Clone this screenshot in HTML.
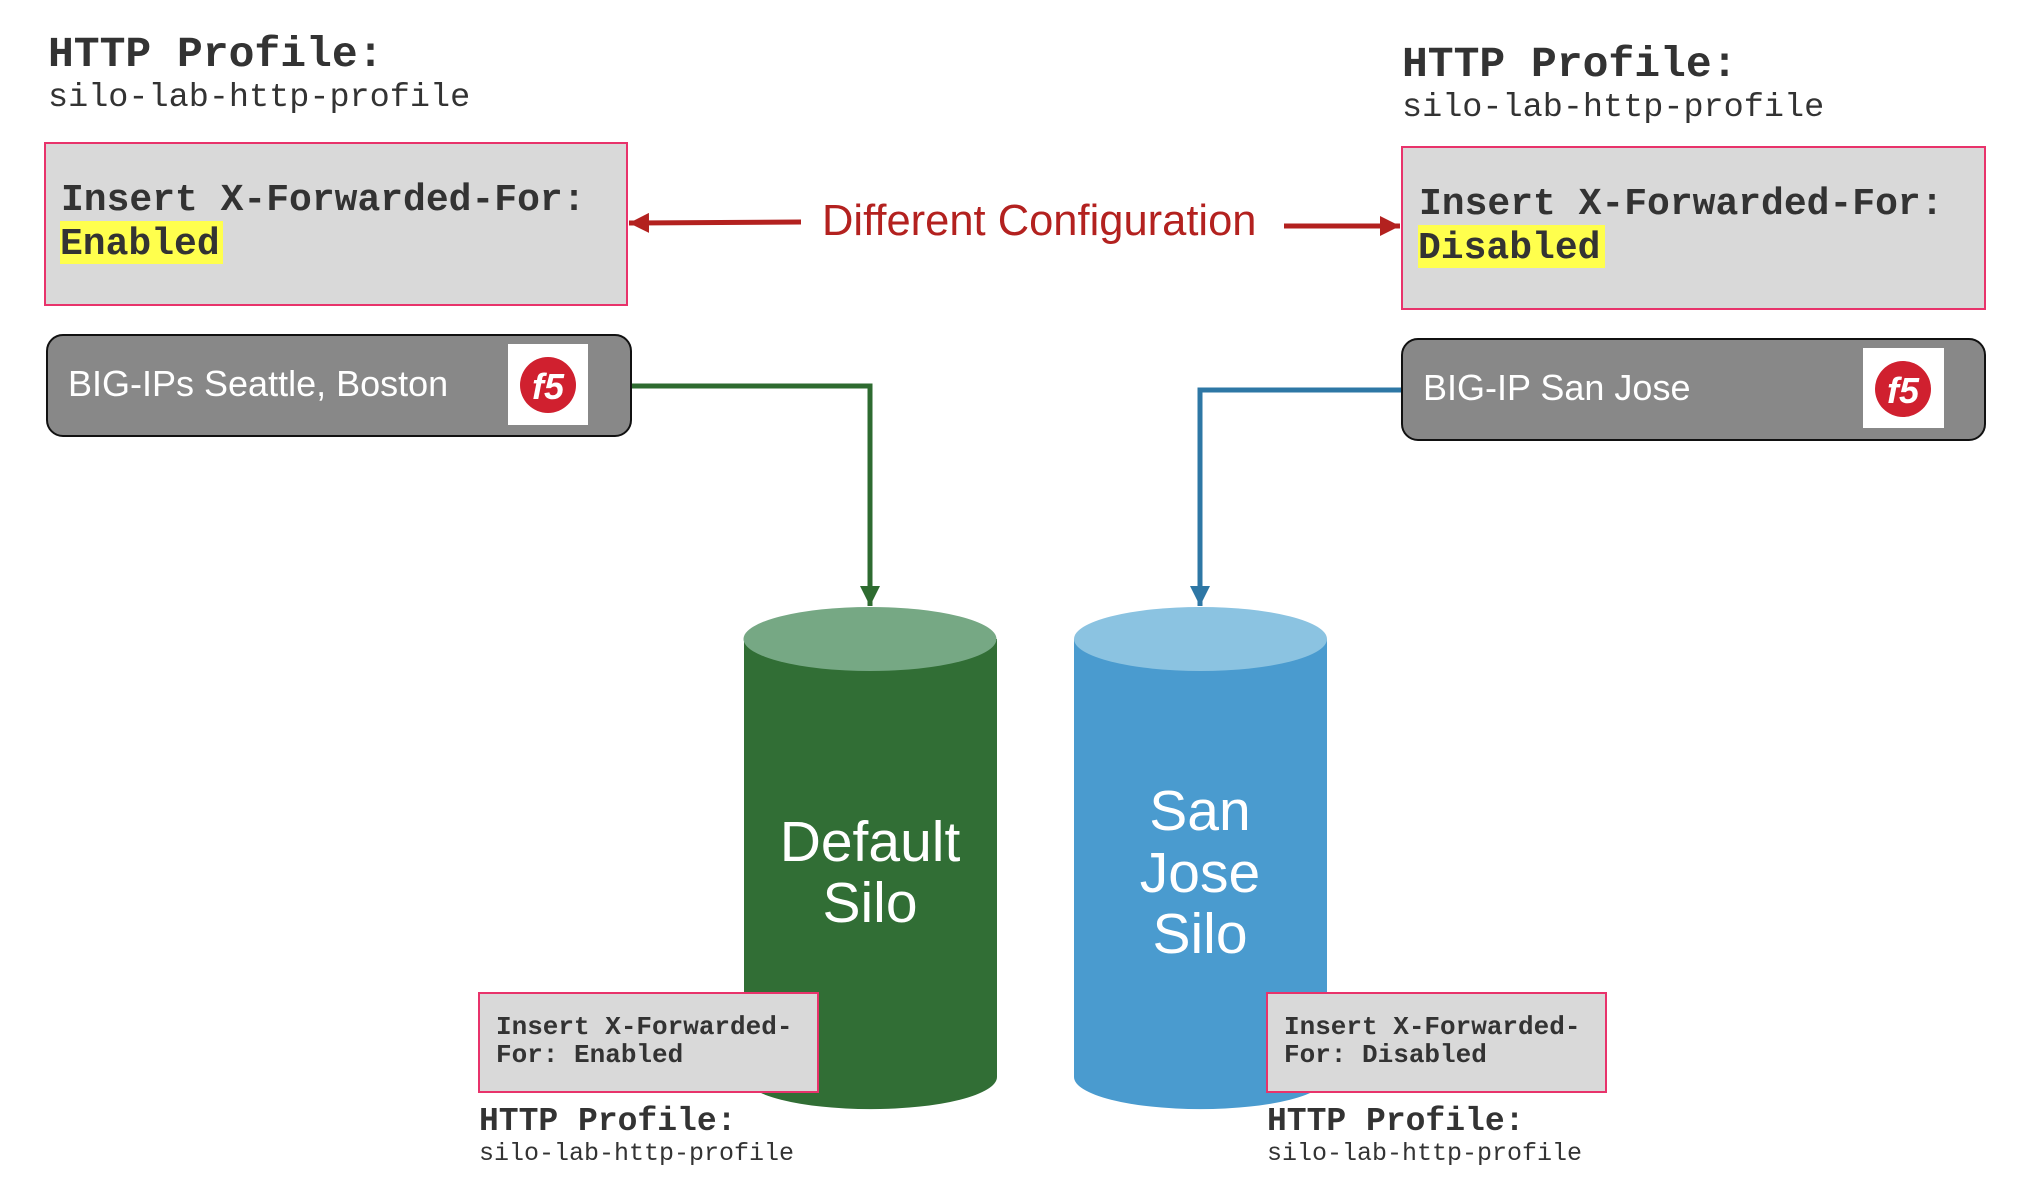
<!DOCTYPE html>
<html><head><meta charset="utf-8"><style>
html,body{margin:0;padding:0;background:#fff;}
svg{display:block;}
.m{font-family:"Liberation Mono","Courier New",monospace;fill:#333;}
.b{font-weight:bold;}
.s{font-family:"Liberation Sans",Arial,sans-serif;}
</style></head><body>
<svg width="2036" height="1200" viewBox="0 0 2036 1200" xmlns="http://www.w3.org/2000/svg">
<defs>
<marker id="ar" markerWidth="4" markerHeight="4" refX="4" refY="2" orient="auto" markerUnits="strokeWidth"><path d="M0,0 L4,2 L0,4 z" fill="#b3211f"/></marker>
<marker id="ag" markerWidth="4" markerHeight="4" refX="4" refY="2" orient="auto" markerUnits="strokeWidth"><path d="M0,0 L4,2 L0,4 z" fill="#2e6b30"/></marker>
<marker id="ab" markerWidth="4" markerHeight="4" refX="4" refY="2" orient="auto" markerUnits="strokeWidth"><path d="M0,0 L4,2 L0,4 z" fill="#2e77a5"/></marker>
</defs>

<text x="48" y="66" class="m b" font-size="43">HTTP Profile:</text>
<text x="48" y="106" class="m" font-size="33.5">silo-lab-http-profile</text>
<text x="1402" y="76" class="m b" font-size="43">HTTP Profile:</text>
<text x="1402" y="116" class="m" font-size="33.5">silo-lab-http-profile</text>

<rect x="45" y="143" width="582" height="162" fill="#d9d9d9" stroke="#e8336b" stroke-width="2"/>
<rect x="60" y="221" width="163" height="43" fill="#ffff4d"/>
<text x="61" y="210" class="m b" font-size="38">Insert X-Forwarded-For:</text>
<text x="60" y="254" class="m b" font-size="38">Enabled</text>

<rect x="1402" y="147" width="583" height="162" fill="#d9d9d9" stroke="#e8336b" stroke-width="2"/>
<rect x="1418" y="225" width="187" height="43" fill="#ffff4d"/>
<text x="1419" y="214" class="m b" font-size="38">Insert X-Forwarded-For:</text>
<text x="1418" y="258" class="m b" font-size="38">Disabled</text>

<text x="822" y="235" class="s" font-size="43.5" fill="#b3211f">Different Configuration</text>
<line x1="801" y1="222" x2="629" y2="223" stroke="#b3211f" stroke-width="5" marker-end="url(#ar)"/>
<line x1="1284" y1="226" x2="1400" y2="226" stroke="#b3211f" stroke-width="5" marker-end="url(#ar)"/>

<polyline points="631,386 870,386 870,606" fill="none" stroke="#2e6b30" stroke-width="5" marker-end="url(#ag)"/>
<polyline points="1402,390 1200,390 1200,606" fill="none" stroke="#2e77a5" stroke-width="5" marker-end="url(#ab)"/>

<rect x="47" y="335" width="584" height="101" rx="16" fill="#888888" stroke="#111" stroke-width="2"/>
<text x="68" y="396" class="s" font-size="36" fill="#fff">BIG-IPs Seattle, Boston</text>
<rect x="508" y="344" width="80" height="81" fill="#fff"/>
<circle cx="548" cy="385" r="28" fill="#d0202f"/>
<text x="548" y="399" class="s" font-size="36" font-weight="bold" fill="#fff" text-anchor="middle" font-style="italic">f5</text>

<rect x="1402" y="339" width="583" height="101" rx="16" fill="#888888" stroke="#111" stroke-width="2"/>
<text x="1423" y="400" class="s" font-size="36" fill="#fff">BIG-IP San Jose</text>
<rect x="1863" y="348" width="81" height="80" fill="#fff"/>
<circle cx="1903" cy="389" r="28" fill="#d0202f"/>
<text x="1903" y="403" class="s" font-size="36" font-weight="bold" fill="#fff" text-anchor="middle" font-style="italic">f5</text>

<path d="M744,639 L744,1077 A126,32 0 0 0 997,1077 L997,639 Z" fill="#316e35"/>
<ellipse cx="870" cy="639" rx="126.5" ry="32" fill="#76a884"/>
<text x="870" y="861" class="s" font-size="57" fill="#fff" text-anchor="middle">Default</text>
<text x="870" y="922" class="s" font-size="57" fill="#fff" text-anchor="middle">Silo</text>

<path d="M1074,639 L1074,1077 A126,32 0 0 0 1327,1077 L1327,639 Z" fill="#4a9bcf"/>
<ellipse cx="1200.5" cy="639" rx="126.5" ry="32" fill="#8bc3e1"/>
<text x="1200" y="830" class="s" font-size="57" fill="#fff" text-anchor="middle">San</text>
<text x="1200" y="892" class="s" font-size="57" fill="#fff" text-anchor="middle">Jose</text>
<text x="1200" y="953" class="s" font-size="57" fill="#fff" text-anchor="middle">Silo</text>

<rect x="479" y="993" width="339" height="99" fill="#d9d9d9" stroke="#e8336b" stroke-width="2"/>
<text x="496" y="1034" class="m b" font-size="26">Insert X-Forwarded-</text>
<text x="496" y="1062" class="m b" font-size="26">For: Enabled</text>
<text x="479" y="1130" class="m b" font-size="33">HTTP Profile:</text>
<text x="479" y="1160" class="m" font-size="25">silo-lab-http-profile</text>

<rect x="1267" y="993" width="339" height="99" fill="#d9d9d9" stroke="#e8336b" stroke-width="2"/>
<text x="1284" y="1034" class="m b" font-size="26">Insert X-Forwarded-</text>
<text x="1284" y="1062" class="m b" font-size="26">For: Disabled</text>
<text x="1267" y="1130" class="m b" font-size="33">HTTP Profile:</text>
<text x="1267" y="1160" class="m" font-size="25">silo-lab-http-profile</text>
</svg>
</body></html>
